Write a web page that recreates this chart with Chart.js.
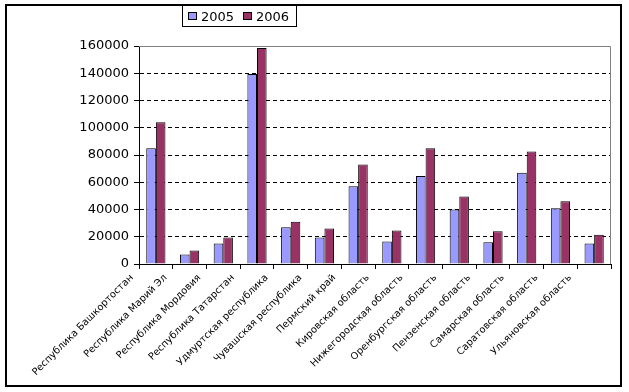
<!DOCTYPE html>
<html>
<head>
<meta charset="utf-8">
<script src="https://cdn.jsdelivr.net/npm/chart.js@4.4.0/dist/chart.umd.min.js"></script>
<style>
  html, body { margin: 0; padding: 0; background: #fff; }
  #wrap { width: 629px; height: 392px; position: relative; }
</style>
</head>
<body>
<div id="wrap"><canvas id="regionChart"></canvas></div>
<script>
const regions = [
    "Республика Башкортостан", "Республика Марий Эл", "Республика Мордовия",
    "Республика Татарстан", "Удмуртская республика", "Чувашская республика",
    "Пермский край", "Кировская область", "Нижегородская область",
    "Оренбургская область", "Пензенская область", "Самарская область",
    "Саратовская область", "Ульяновская область"
];
const values2005 = [85000, 7000, 15000, 139500, 27000, 19500, 57000, 16500, 64500, 40000, 16000, 67000, 41000, 15000];
const values2006 = [104000, 10000, 19500, 158500, 31000, 26000, 73000, 24500, 85000, 49500, 24000, 82500, 46000, 21500];
const seriesNames = ["2005", "2006"];
const yMax = 160000;
const yStep = 20000;

const numFont = { family: "DejaVu Sans", size: 13 };

// outer frame, plot border and boxed legend
const framePlugin = {
    id: "frame",
    beforeDraw(chart) {
        const c = chart.ctx;
        c.save();
        c.fillStyle = "#fff";
        c.fillRect(0, 0, chart.width, chart.height);
        c.restore();
    },
    beforeDatasetsDraw(chart) {
        const c = chart.ctx, a = chart.chartArea;
        c.save();
        c.strokeStyle = "#808080";
        c.lineWidth = 1;
        c.beginPath();
        c.moveTo(a.left, a.top + 0.5);
        c.lineTo(a.right - 0.5, a.top + 0.5);
        c.lineTo(a.right - 0.5, a.bottom);
        c.stroke();
        c.restore();
    },
    afterDraw(chart) {
        const c = chart.ctx;
        c.save();
        c.strokeStyle = "#000";
        c.lineWidth = 2;
        c.strokeRect(6, 5, 615, 381);

        // legend box
        c.lineWidth = 1;
        c.strokeRect(182.5, 5.5, 114, 21);
        c.font = numFont.size + "px " + numFont.family;
        c.textBaseline = "alphabetic";
        let x = 188;
        chart.data.datasets.forEach(ds => {
            c.fillStyle = ds.backgroundColor;
            c.fillRect(x, 12, 8, 7);
            c.strokeRect(x + 0.5, 12.5, 8, 7);
            c.fillStyle = "#000";
            c.fillText(ds.label, x + 13, 20.5);
            x += 55;
        });
        c.restore();
    }
};

new Chart(document.getElementById("regionChart").getContext("2d"), {
    type: "bar",
    data: {
        labels: regions,
        datasets: [
            {
                label: seriesNames[0],
                data: values2005,
                backgroundColor: "#9999FF",
                borderColor: "#000",
                borderWidth: 1,
                categoryPercentage: 0.57,
                barPercentage: 1.0
            },
            {
                label: seriesNames[1],
                data: values2006,
                backgroundColor: "#993366",
                borderColor: "#000",
                borderWidth: 1,
                categoryPercentage: 0.57,
                barPercentage: 1.0
            }
        ]
    },
    options: {
        responsive: true,
        maintainAspectRatio: false,
        animation: false,
        layout: { padding: { left: 10, top: 46, right: 18, bottom: 0 } },
        scales: {
            x: {
                afterFit: (scale) => { scale.height = 128; },
                ticks: {
                    minRotation: 45,
                    maxRotation: 45,
                    autoSkip: false,
                    color: "#000",
                    padding: 3,
                    labelOffset: -24,
                    font: { family: "DejaVu Sans", size: 9.8 }
                },
                grid: {
                    offset: true,
                    drawOnChartArea: false,
                    drawTicks: true,
                    tickLength: 5,
                    tickColor: "#000"
                },
                border: { color: "#000", width: 1 }
            },
            y: {
                min: 0,
                max: yMax,
                afterFit: (scale) => { scale.width = 129; },
                ticks: {
                    stepSize: yStep,
                    color: "#000",
                    padding: 5,
                    font: numFont,
                    callback: (v) => String(v)
                },
                grid: {
                    color: (ctx) => (ctx.tick && ctx.tick.value === yMax) ? "rgba(0,0,0,0)" : "#000",
                    tickColor: "#000",
                    tickLength: 5,
                    tickBorderDash: [],
                    lineWidth: 1
                },
                border: { color: "#000", width: 1, dash: [4, 3] }
            }
        },
        plugins: {
            legend: { display: false },
            tooltip: { enabled: false }
        }
    },
    plugins: [framePlugin]
});
</script>
</body>
</html>
